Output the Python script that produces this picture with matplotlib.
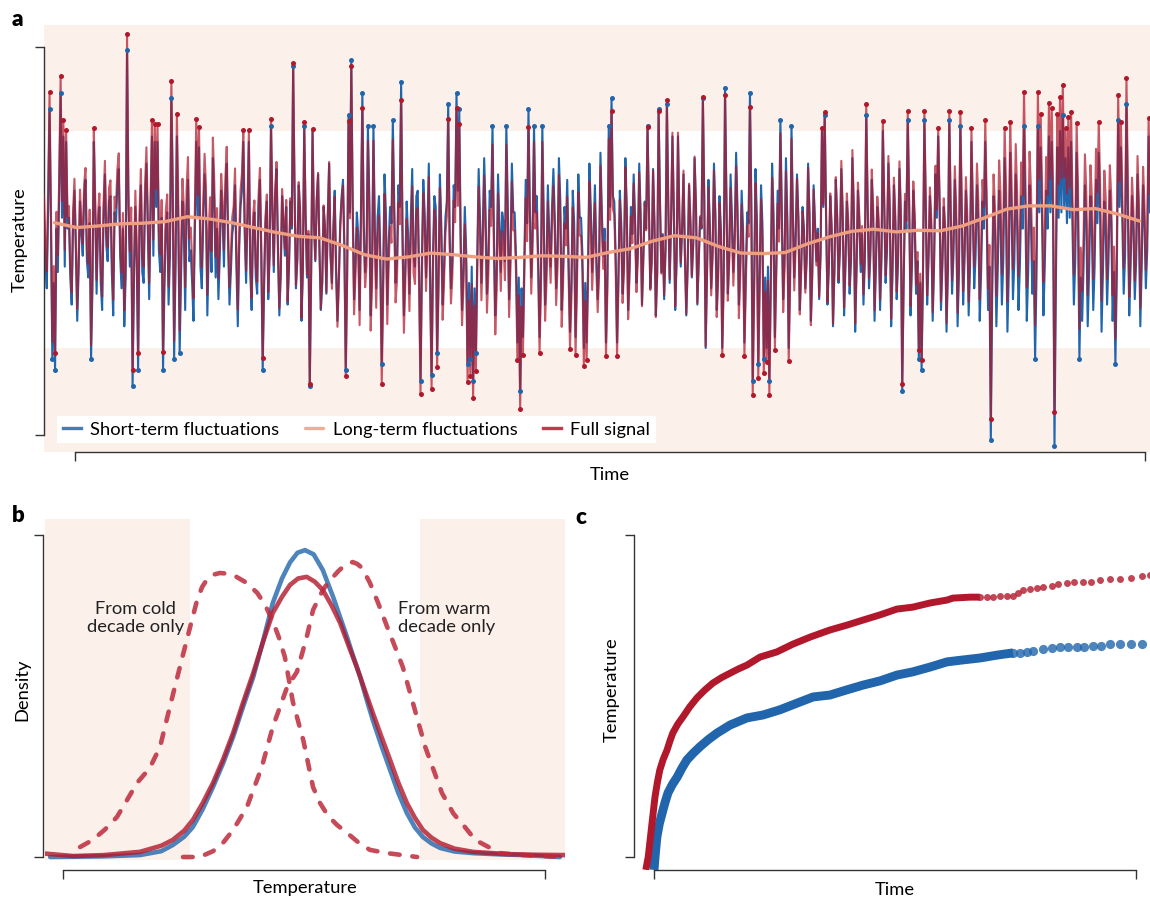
import matplotlib

matplotlib.use("Agg")
import matplotlib.pyplot as plt
import numpy as np

plt.rcParams["font.family"] = ["Lato", "DejaVu Sans"]

BLUE = "#2166ac"
RED = "#b2182b"
ORANGE = "#ef9e7f"
PINK = "#fcf0ea"
INK = "#333333"
FS = 13.2

# ---- panel a: short-term fluctuations, tenths of a degree, 50 blocks of 16 days
short_term = [
    [5, -4, -9, 6, 24, 3, -22, -8, -24, 2, -6, 9, 27, 4, 19, -5],
    [18, 2, 4, -7, -12, 3, 9, -2, -15, -6, 7, 1, -3, 8, 11, -4],
    [-7, 3, -22, -9, 18, 5, -10, 2, 6, -8, -13, 4, 12, -1, -4, 7],
    [8, -6, -14, 5, 3, 10, 13, -3, -9, 2, -16, -7, 35, 6, -5, 3],
    [-27, -8, 6, -4, -24, 2, 10, -6, -8, 7, 14, 1, -11, 5, 19, -3],
    [18, 6, 18, -2, -6, 4, -24, -9, 2, 5, -12, -3, 26, 8, -22, -6],
    [19, 3, -21, -7, 7, 2, -13, 5, 11, -4, -2, -8, -15, 1, 18, 4],
    [17, -5, -9, 3, 12, 6, -14, -2, 4, -6, 15, 7, -7, 2, -11, -3],
    [9, 4, -5, 8, 14, -1, -12, -6, 1, 3, 10, -5, -16, -2, 6, 9],
    [18, 1, -8, 4, 18, -6, -13, 2, 5, -7, -10, 6, 11, -4, -24, -9],
    [3, 7, -11, -3, 21, 5, -6, 8, 13, -2, -14, -7, 8, 3, -3, 6],
    [-12, -5, 7, 2, 32, 9, -9, -4, 10, 5, -15, -6, 21, 4, -7, 1],
    [-27, -6, 20, 3, -4, 7, 12, -2, -13, -8, 6, 2, -10, 4, 14, -3],
    [-8, 2, 9, -5, -15, -7, 3, 8, 11, -1, -24, -6, 23, 5, 33, 7],
    [-11, -4, 5, 1, -13, 6, 27, 3, -6, -2, 21, 8, -14, -5, 21, 2],
    [-9, 4, 8, -3, -23, -7, 12, 5, -12, -1, 6, 3, 22, 7, -8, -4],
    [10, 6, 29, 2, -14, -5, 7, 1, -10, 4, 13, -3, -5, 8, 9, -6],
    [-26, -4, 11, 5, -7, 2, 14, -8, -25, -3, 8, 6, -21, -7, 12, 3],
    [-12, -5, 4, 7, 25, 2, -9, -4, 10, 6, 27, 9, 24, 1, -13, -6],
    [6, -2, -23, -8, -22, -5, -26, -9, -21, -3, 13, 4, -8, 2, 15, 5],
    [-10, -3, 9, 6, 21, 2, -14, -6, 12, 3, -6, 5, 3, -4, 21, 7],
    [-11, -2, 14, 5, 5, -3, -19, -7, -28, -9, -18, -4, 11, 3, 24, 6],
    [-7, 2, 21, 5, 8, -3, -18, -6, 21, 4, -12, -5, 10, 1, -5, 6],
    [13, 4, -9, -2, 15, 7, -13, -5, 6, 2, 11, -4, -17, -8, 9, 3],
    [-18, -6, 12, 4, 4, -3, -20, -8, -19, -5, 14, 6, -6, 1, 10, -2],
    [-11, -4, 16, 5, -3, 2, -19, -7, 21, 6, 26, 8, 7, -3, -19, -6],
    [9, 3, -10, -4, 15, 6, -13, -5, 6, 1, 12, 4, -8, -2, 14, 5],
    [-12, -3, 7, 2, 21, 6, -9, -4, 13, 3, -14, -6, 24, 7, -6, 1],
    [-11, -2, 25, 6, -8, 3, 19, 5, -13, -4, 19, 4, -5, 2, 12, -3],
    [-14, -5, 10, 3, -7, -1, 15, 6, -12, -4, 4, 2, 26, 7, -20, -6],
    [11, 3, -9, -2, 14, 5, -13, -6, 8, 2, -20, -7, 28, 8, -10, -3],
    [12, 4, -6, 1, 16, 6, -12, -4, 9, 2, -19, -6, 5, 3, 27, 7],
    [-26, -8, 13, 4, -23, -6, 10, 3, -22, -7, -20, -5, -26, -8, 14, 5],
    [-18, -5, 9, 2, 22, 6, -11, -3, 15, 4, -20, -6, 21, 5, -7, 1],
    [12, 4, -13, -5, 6, 2, -9, -3, 14, 5, -15, -6, 10, 3, -4, 2],
    [-11, -3, 20, 6, 23, 4, -12, -5, 8, 2, -16, -6, 11, 4, -8, -2],
    [13, 4, -14, -5, 7, 2, -10, -4, 15, 5, -17, -6, 9, 3, -6, 1],
    [-12, -4, 23, 6, -9, -3, 11, 4, -15, -5, 6, 2, -13, -4, 20, 6],
    [-8, -2, 14, 5, -16, -6, 10, 3, -11, -4, 13, 4, -28, -9, 7, 2],
    [22, 6, -14, -5, 9, 3, -10, -4, -22, -8, -24, -7, 22, 6, -12, -4],
    [8, 2, -15, -5, 12, 4, 19, 6, -13, -5, 6, 1, -17, -6, 22, 5],
    [-10, -3, 11, 3, -16, -6, 21, 5, -12, -4, 9, 2, -14, -5, 18, 4],
    [-9, -3, 10, 3, -15, -6, 7, 2, 18, 4, -13, -5, -37, -10, 8, 2],
    [-16, -6, 9, 3, -12, -4, 15, 4, -17, -6, 16, 5, -11, -4, 12, 3],
    [-13, -5, 8, 2, 21, 5, -15, -6, 10, 3, -10, -4, -22, -7, 21, 5],
    [17, 4, -14, -5, 9, 2, 19, 5, 18, 3, -38, -9, 17, 4, 20, 5],
    [23, 6, 15, 3, 17, 4, 18, 2, -12, -4, 16, 4, -22, -7, -15, -5],
    [10, 3, -16, -6, 8, 2, -13, -5, 11, 3, 16, 4, -17, -6, 7, 2],
    [-12, -4, 9, 3, -15, -6, -23, -7, 22, 6, 17, 4, -10, -3, 25, 6],
    [-14, -5, 8, 2, -11, -4, 12, 3, -16, -5, 10, 3, -9, -2, 19, 5],
]
# long-term component, one value per block (degrees)
long_term = [
    0.31, 0.22, 0.25, 0.29, 0.30, 0.33, 0.42, 0.38, 0.31, 0.22,
    0.13, 0.06, 0.03, -0.11, -0.28, -0.36, -0.32, -0.25, -0.28, -0.32,
    -0.35, -0.33, -0.30, -0.31, -0.33, -0.24, -0.17, -0.03, 0.07, 0.03,
    -0.13, -0.25, -0.26, -0.24, -0.08, 0.05, 0.15, 0.19, 0.14, 0.17,
    0.16, 0.25, 0.40, 0.56, 0.62, 0.62, 0.55, 0.57, 0.47, 0.34,
]
threshold = 2.0

# ---- panel b: densities (temperature, density)
blue_x = [-4.43, -3.5, -2.87, -2.5, -2.30, -2.1, -1.95, -1.78, -1.60, -1.42, -1.25,
          -1.08, -0.90, -0.73, -0.56, -0.40, -0.26, -0.13, 0.0, 0.15, 0.31, 0.49,
          0.61, 0.73, 0.84, 0.96, 1.07, 1.18, 1.33, 1.48, 1.62, 1.77, 1.91, 2.05,
          2.2, 2.35, 2.6, 2.92, 3.4, 3.79, 4.43]
blue_y = [0.0, 0.002, 0.006, 0.018, 0.037, 0.063, 0.093, 0.148, 0.217, 0.293, 0.373,
          0.465, 0.559, 0.670, 0.789, 0.865, 0.915, 0.945, 0.953, 0.940, 0.891, 0.807,
          0.745, 0.683, 0.622, 0.559, 0.490, 0.425, 0.345, 0.270, 0.200, 0.137, 0.092,
          0.062, 0.042, 0.028, 0.017, 0.012, 0.008, 0.006, 0.0]
full_x = [-4.61, -4.03, -3.5, -2.87, -2.5, -2.30, -2.1, -1.95, -1.78, -1.60, -1.42,
          -1.25, -1.08, -0.90, -0.73, -0.56, -0.40, -0.26, -0.12, 0.03, 0.17, 0.31,
          0.46, 0.61, 0.75, 0.90, 1.04, 1.18, 1.33, 1.48, 1.62, 1.77, 1.91, 2.05,
          2.2, 2.35, 2.6, 2.92, 3.51, 4.0, 4.52]
full_y = [0.012, 0.003, 0.006, 0.016, 0.035, 0.053, 0.082, 0.115, 0.167, 0.230, 0.305,
          0.385, 0.478, 0.571, 0.668, 0.758, 0.808, 0.845, 0.865, 0.870, 0.855, 0.829,
          0.782, 0.727, 0.660, 0.590, 0.518, 0.447, 0.373, 0.301, 0.232, 0.168, 0.122,
          0.084, 0.060, 0.043, 0.026, 0.016, 0.009, 0.007, 0.006]
cold_x = [-3.91, -3.69, -3.48, -3.27, -3.1, -2.92, -2.70, -2.52, -2.35, -2.14, -1.97,
          -1.88, -1.79, -1.70, -1.59, -1.48, -1.35, -1.22, -1.01, -0.83, -0.70, -0.56,
          -0.45, -0.35, -0.21, -0.03, 0.14, 0.26, 0.40, 0.56, 0.73, 0.93, 1.13, 1.43, 1.95]
cold_y = [0.031, 0.053, 0.085, 0.124, 0.175, 0.230, 0.276, 0.342, 0.466, 0.615, 0.733,
          0.795, 0.838, 0.863, 0.877, 0.882, 0.880, 0.873, 0.851, 0.820, 0.785, 0.733,
          0.680, 0.621, 0.481, 0.363, 0.217, 0.168, 0.128, 0.099, 0.075, 0.045, 0.022,
          0.012, 0.0]
warm_x = [-2.12, -1.83, -1.60, -1.43, -1.25, -1.01, -0.75, -0.56, -0.31, -0.14, 0.03,
          0.14, 0.31, 0.40, 0.49, 0.58, 0.66, 0.75, 0.83, 0.91, 0.99, 1.13, 1.28, 1.43,
          1.56, 1.70, 1.91, 2.09, 2.38, 2.58, 2.78, 2.96, 3.39, 3.79, 4.52]
warm_y = [0.0, 0.0, 0.018, 0.043, 0.084, 0.155, 0.280, 0.404, 0.528, 0.575, 0.683,
          0.767, 0.829, 0.852, 0.870, 0.888, 0.901, 0.912, 0.916, 0.910, 0.898, 0.851,
          0.785, 0.714, 0.655, 0.590, 0.457, 0.342, 0.199, 0.135, 0.093, 0.053, 0.012,
          0.006, 0.0]

# ---- panel c: running records (time, temperature)
red_line_t = [-0.017, -0.012, -0.008, -0.003, 0.002, 0.007, 0.012, 0.019, 0.027, 0.033,
              0.039, 0.049, 0.060, 0.074, 0.089, 0.105, 0.122, 0.140, 0.158, 0.175,
              0.193, 0.220, 0.255, 0.288, 0.324, 0.365, 0.400, 0.434, 0.469, 0.504,
              0.537, 0.573, 0.608, 0.620, 0.656, 0.676]
red_line_v = [-0.040, 0.000, 0.053, 0.120, 0.186, 0.232, 0.270, 0.303, 0.332, 0.360,
              0.385, 0.412, 0.435, 0.466, 0.494, 0.518, 0.540, 0.557, 0.571, 0.584,
              0.596, 0.621, 0.637, 0.661, 0.683, 0.705, 0.720, 0.736, 0.752, 0.770,
              0.776, 0.789, 0.798, 0.804, 0.807, 0.807]
red_dot_t = [0.676, 0.691, 0.703, 0.718, 0.732, 0.745, 0.755, 0.766, 0.780, 0.795,
             0.807, 0.826, 0.838, 0.857, 0.871, 0.890, 0.907, 0.925, 0.946, 0.967,
             0.990, 1.012, 1.029]
red_dot_v = [0.807, 0.807, 0.807, 0.811, 0.811, 0.811, 0.820, 0.829, 0.832, 0.836,
             0.839, 0.842, 0.848, 0.851, 0.854, 0.854, 0.854, 0.860, 0.863, 0.863,
             0.866, 0.873, 0.876]
blue_line_t = [0.0, 0.003, 0.006, 0.011, 0.017, 0.023, 0.029, 0.038, 0.048, 0.058,
               0.068, 0.081, 0.095, 0.113, 0.131, 0.158, 0.193, 0.226, 0.261, 0.297,
               0.330, 0.365, 0.400, 0.434, 0.469, 0.504, 0.537, 0.573, 0.608, 0.641,
               0.676, 0.712, 0.745]
blue_line_v = [-0.040, 0.015, 0.062, 0.103, 0.137, 0.170, 0.199, 0.225, 0.248, 0.276,
               0.301, 0.322, 0.342, 0.365, 0.385, 0.410, 0.432, 0.441, 0.457, 0.478,
               0.497, 0.503, 0.519, 0.534, 0.547, 0.565, 0.575, 0.590, 0.606, 0.612,
               0.618, 0.627, 0.634]
blue_dot_t = [0.745, 0.759, 0.774, 0.786, 0.807, 0.826, 0.842, 0.859, 0.878, 0.892,
              0.911, 0.927, 0.946, 0.967, 0.990, 1.012]
blue_dot_v = [0.634, 0.634, 0.637, 0.641, 0.646, 0.650, 0.653, 0.653, 0.653, 0.653,
              0.656, 0.656, 0.660, 0.660, 0.660, 0.663]


def brackets(ax, xb, yb, left_out=0, bottom_out=0, tick_px=9):
    ax.spines["top"].set_visible(False)
    ax.spines["right"].set_visible(False)
    ax.spines["left"].set_bounds(*yb)
    ax.spines["bottom"].set_bounds(*xb)
    ax.spines["left"].set_position(("outward", left_out))
    ax.spines["bottom"].set_position(("outward", bottom_out))
    for s in ("left", "bottom"):
        ax.spines[s].set_color(INK)
        ax.spines[s].set_linewidth(1.0)
    ax.set_xticks(xb)
    ax.set_yticks(yb)
    ax.set_xticklabels([])
    ax.set_yticklabels([])
    ax.tick_params(length=tick_px * 0.72, width=1.0, color=INK, direction="out")


W, H = 1150, 902
fig = plt.figure(figsize=(W / 100, H / 100), dpi=100)


def px_axes(x0, y0, x1, y1):
    return fig.add_axes([x0 / W, 1 - y1 / H, (x1 - x0) / W, (y1 - y0) / H])


# ---------------- panel a
ax_a = px_axes(44, 25, 1150, 452)
short = np.array(short_term, dtype=float) / 10.0
lt = np.array(long_term)
block = short.shape[1]
full = (short + lt[:, None]).ravel()
short = short.ravel()
days = np.arange(short.size)
centers = np.arange(len(lt)) * block + (block - 1) / 2

ax_a.set_facecolor(PINK)
ax_a.axhspan(-threshold, threshold, color="white", lw=0, zorder=0)
l1, = ax_a.plot(days, short, color=BLUE, lw=1.5, zorder=2)
l3, = ax_a.plot(days, full, color=RED, lw=1.5, alpha=0.72, zorder=3)
l2, = ax_a.plot(centers, lt, color=ORANGE, lw=2.4, zorder=4, solid_capstyle="round")
hi_s = np.abs(short) > threshold
hi_f = np.abs(full) > threshold
ax_a.plot(days[hi_s], short[hi_s], "o", color=BLUE, ms=3.6, mew=0, zorder=5)
ax_a.plot(days[hi_f], full[hi_f], "o", color=RED, ms=3.6, mew=0, zorder=6)
n = short.size
ax_a.set_xlim(0, n - 1)
ax_a.set_ylim(-3.917, 3.954)
brackets(ax_a, ((75 - 44) / 1106 * (n - 1), (1145 - 44) / 1106 * (n - 1)), (-3.604, 3.548))
leg = ax_a.legend([l1, l2, l3], ["Short-term fluctuations", "Long-term fluctuations", "Full signal"],
                  loc="lower left", bbox_to_anchor=(0.012, 0.021), borderaxespad=0, ncol=3,
                  fontsize=FS, frameon=True, fancybox=False, framealpha=1, borderpad=0.3,
                  handlelength=1.0, handletextpad=0.5, columnspacing=1.4)
leg.get_frame().set_facecolor("white")
leg.get_frame().set_edgecolor("none")
for h in leg.legend_handles:
    h.set_linewidth(2.4)
    h.set_alpha(0.85)

# ---------------- panel b
ax_b = px_axes(45, 519, 565, 860)
ax_b.axvspan(-4.52, -threshold, color=PINK, lw=0, zorder=0)
ax_b.axvspan(threshold, 4.52, color=PINK, lw=0, zorder=0)
ax_b.plot(blue_x, blue_y, color=BLUE, lw=3.3, alpha=0.8, solid_capstyle="round",
          solid_joinstyle="round")
ax_b.plot(full_x, full_y, color=RED, lw=3.3, alpha=0.8, solid_capstyle="round",
          solid_joinstyle="round")
for xs, ys in ((cold_x, cold_y), (warm_x, warm_y)):
    ax_b.plot(xs, ys, color="#bd2a3c", lw=3.3, alpha=0.85, dashes=(2.1, 2.8),
              dash_capstyle="round", dash_joinstyle="round")
ax_b.text(-2.94, 0.742, "From cold\ndecade only", ha="center", va="center",
          fontsize=FS, linespacing=1.2, color="#222222")
ax_b.text(1.62, 0.742, "From warm\ndecade only", ha="left", va="center",
          fontsize=FS, linespacing=1.2, color="#222222")
ax_b.set_xlim(-4.52, 4.52)
ax_b.set_ylim(-0.0093, 1.0497)
brackets(ax_b, (-4.21, 4.17), (0, 1), left_out=1.5, bottom_out=7.2)

# ---------------- panel c
ax_c = px_axes(634, 519, 1150, 870)
ax_c.plot(blue_line_t, blue_line_v, color=BLUE, lw=6.4, solid_capstyle="butt",
          solid_joinstyle="round", zorder=2)
ax_c.plot(blue_dot_t, blue_dot_v, "o", color=BLUE, ms=6.6, mew=0, alpha=0.8, zorder=2, clip_on=False)
ax_c.plot(red_line_t, red_line_v, color=RED, lw=5.0, solid_capstyle="butt",
          solid_joinstyle="round", zorder=3)
ax_c.plot(red_dot_t, red_dot_v, "o", color=RED, ms=5.0, mew=0, alpha=0.8, zorder=3, clip_on=False)
ax_c.set_xlim(-0.0415, 1.029)
ax_c.set_ylim(-0.0404, 1.0497)
brackets(ax_c, (0, 1), (0, 1))

# ---------------- labels
fig.text(17 / W, 1 - 20 / H, "a", fontsize=16, fontweight="heavy", va="center", ha="center")
fig.text(18 / W, 1 - 516 / H, "b", fontsize=16, fontweight="heavy", va="center", ha="center")
fig.text(581 / W, 1 - 518 / H, "c", fontsize=16, fontweight="heavy", va="center", ha="center")
fig.text(20 / W, 1 - 240 / H, "Temperature", rotation=90, fontsize=FS, ha="center", va="center")
fig.text(610 / W, 1 - 475 / H, "Time", fontsize=FS, ha="center", va="center")
fig.text(22 / W, 1 - 690 / H, "Density", rotation=90, fontsize=FS, ha="center", va="center")
fig.text(305 / W, 1 - 888 / H, "Temperature", fontsize=FS, ha="center", va="center")
fig.text(612 / W, 1 - 690 / H, "Temperature", rotation=90, fontsize=FS, ha="center", va="center")
fig.text(895 / W, 1 - 890 / H, "Time", fontsize=FS, ha="center", va="center")

fig.savefig("out.png", dpi=100)
